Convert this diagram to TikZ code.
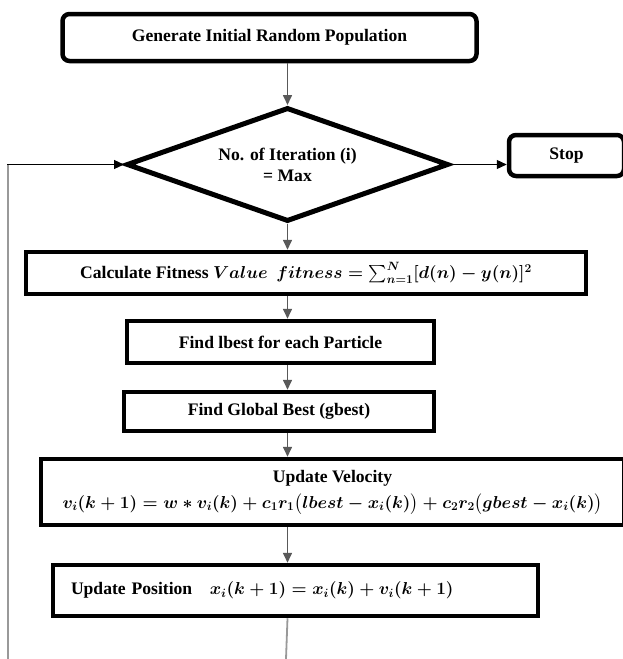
\documentclass[tikz,border=0pt]{standalone}
\usepackage{amsmath}
\usepackage{fontspec}
\setmainfont{Liberation Serif}
\usetikzlibrary{shapes.geometric,arrows.meta}
\begin{document}
\begin{tikzpicture}[x=1pt,y=-1pt,
  box/.style={draw=black, line width=4.5pt, fill=white, inner sep=0pt,
    font=\fontsize{17.6}{21}\selectfont\bfseries\boldmath, align=center},
  rbox/.style={box, rounded corners=7pt},
  decision/.style={box, diamond, aspect=2.8, line width=5pt, line join=miter},
  arr/.style={draw=black!65, line width=1.6pt, -{Triangle[length=10pt,width=9pt]}},
  harr/.style={draw=black, line width=1.2pt, -{Triangle[length=10pt,width=9pt]}},
  feed/.style={draw=black!40, line width=1.8pt}]
\useasboundingbox (0,0) rectangle (623,659);

\node[rbox, minimum width=414pt, minimum height=47pt] (gen) at (269.5,37.5)
  {Generate Initial Random Population};
\node[decision, minimum width=322pt, minimum height=114pt] (dia) at (287.5,164.5)
  {No. of Iteration (i)\\= Max};
\node[rbox, minimum width=115pt, minimum height=41pt] (stop) at (566.5,155.5) {Stop};
\node[box, minimum width=560pt, minimum height=42pt] (calc) at (306,273)
  {Calculate Fitness $Value$\ \ $fitness=\sum_{n=1}^{N}[d(n)-y(n)]^2$};
\node[box, minimum width=307pt, minimum height=42pt] (lbest) at (280.5,342)
  {Find lbest for each Particle};
\node[box, minimum width=310pt, minimum height=39pt] (gbest) at (279,411.5)
  {Find Global Best (gbest)};
\node[box, minimum width=583pt, minimum height=66pt] (vel) at (332.5,492)
  {Update Velocity\\[5pt]
   $v_i(k+1)=w*v_i(k)+c_1r_1\bigl(lbest-x_i(k)\bigr)+c_2r_2\bigl(gbest-x_i(k)\bigr)$};
\node[box, minimum width=485pt, minimum height=51pt, text width=449pt, align=left] (pos) at (295.5,590.5)
  {Update Position\quad $x_i(k+1)=x_i(k)+v_i(k+1)$};

\coordinate (bend) at (286,659);
\coordinate (lb) at (8,659);

\draw[arr] (dia.north |- gen.south) -- (dia.north);
\draw[harr] (dia.east) -- (stop.west |- dia.east);
\draw[arr] (dia.south) -- (calc.north -| dia.south);
\draw[arr] (calc.south -| dia.south) -- (lbest.north -| dia.south);
\draw[arr] (lbest.south -| dia.south) -- (gbest.north -| dia.south);
\draw[arr] (gbest.south -| dia.south) -- (vel.north -| dia.south);
\draw[arr] (vel.south -| dia.south) -- (pos.north -| dia.south);
\draw[feed] (pos.south -| dia.south) -- (bend);
\draw[feed] (lb) -- (lb |- dia.west);
\draw[harr] ([xshift=-0.9pt]lb |- dia.west) -- (dia.west);
\end{tikzpicture}
\end{document}
